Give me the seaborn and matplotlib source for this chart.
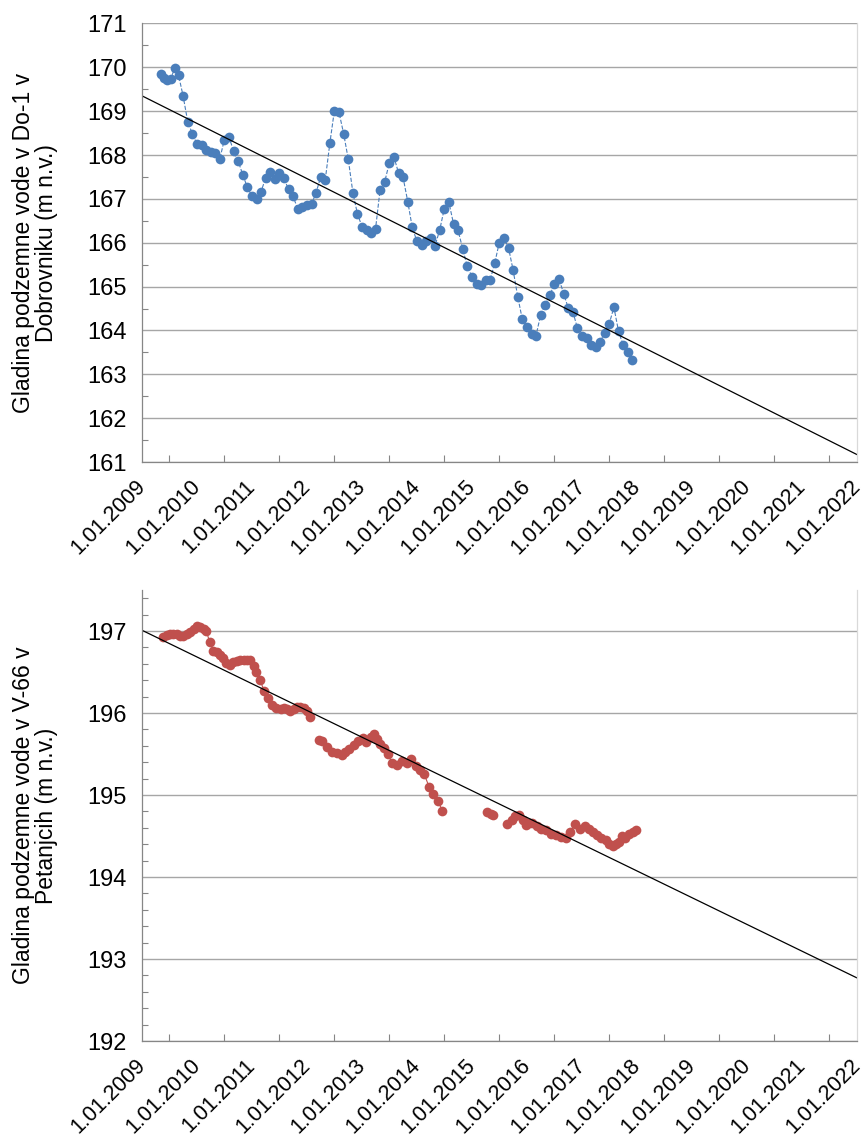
import numpy as np
import pandas as pd
import matplotlib
matplotlib.use("Agg")
import matplotlib.pyplot as plt
import seaborn as sns
from matplotlib.ticker import MultipleLocator

# --- data ---
# Do-1 (Dobrovnik): monthly readings, the first few a bit irregular
do1_first_dates = ["2009-05-05", "2009-05-28", "2009-06-18", "2009-07-10", "2009-08-08"]
do1_monthly_start, do1_monthly_end = "2009-09-01", "2017-12-01"
do1_levels = [
    169.85, 169.75, 169.70, 169.73, 169.99,
    169.82, 169.35, 168.76, 168.49,
    168.25, 168.23, 168.12, 168.08, 168.05, 167.90, 168.34, 168.42, 168.09, 167.87, 167.55, 167.27,
    167.06, 167.00, 167.15, 167.47, 167.61, 167.45, 167.59, 167.47, 167.22, 167.06, 166.77, 166.82,
    166.85, 166.88, 167.14, 167.49, 167.42, 168.27, 169.01, 168.97, 168.48, 167.91, 167.14, 166.66,
    166.37, 166.29, 166.23, 166.31, 167.20, 167.39, 167.81, 167.96, 167.59, 167.49, 166.94, 166.35,
    166.03, 165.95, 166.03, 166.10, 165.93, 166.29, 166.77, 166.92, 166.43, 166.28, 165.86, 165.46,
    165.23, 165.06, 165.03, 165.14, 165.15, 165.53, 166.00, 166.10, 165.88, 165.38, 164.77, 164.26,
    164.09, 163.93, 163.88, 164.36, 164.58, 164.80, 165.06, 165.17, 164.84, 164.51, 164.43, 164.05,
    163.88, 163.83, 163.67, 163.62, 163.73, 163.95, 164.15, 164.53, 163.98, 163.67, 163.50, 163.32,
]

# V-66 (Petanjci): decimal years, NaN marks a break in the record
v66_years = [
    2009.39, 2009.45, 2009.51, 2009.57, 2009.63, 2009.69, 2009.75, 2009.81, 2009.87, 2009.94,
    2010.00, 2010.06, 2010.12, 2010.17, 2010.23, 2010.30, 2010.36, 2010.42, 2010.48, 2010.53,
    2010.60, 2010.66, 2010.73, 2010.79, 2010.85, 2010.91, 2010.97, 2011.03, 2011.08, 2011.15,
    2011.22, 2011.30, 2011.36, 2011.44, 2011.52, 2011.58, 2011.64, 2011.70, 2011.76, 2011.82,
    2011.88, 2011.94, 2012.00, 2012.06, np.nan,
    2012.21, 2012.28, 2012.37, 2012.46, 2012.55, 2012.64, 2012.70, 2012.77, 2012.85, 2012.93,
    2013.01, 2013.08, 2013.16, 2013.22, 2013.28, 2013.33, 2013.40, 2013.47, 2013.55, 2013.63,
    2013.72, 2013.81, 2013.90, 2013.98, 2014.06, 2014.13, 2014.22, 2014.30, 2014.38, 2014.46, np.nan,
    2015.28, 2015.35, 2015.38, np.nan,
    2015.64, 2015.72, 2015.79, 2015.85, 2015.92, 2015.98, 2016.04, 2016.09, 2016.18, 2016.26,
    2016.35, 2016.44, 2016.53, 2016.62, 2016.71, 2016.79, 2016.88, 2016.96, 2017.05, 2017.12,
    2017.20, 2017.28, 2017.35, 2017.44, 2017.50, 2017.56, 2017.62, 2017.68, 2017.72, 2017.78,
    2017.85, 2017.92, 2017.98,
]
v66_levels = [
    196.93, 196.95, 196.97, 196.97, 196.96, 196.94, 196.94, 196.96, 196.99, 197.03,
    197.06, 197.05, 197.03, 197.00, 196.87, 196.76, 196.74, 196.71, 196.67, 196.61,
    196.59, 196.62, 196.63, 196.65, 196.65, 196.65, 196.65, 196.57, 196.50, 196.40,
    196.27, 196.18, 196.10, 196.06, 196.05, 196.06, 196.05, 196.03, 196.05, 196.07,
    196.07, 196.06, 196.02, 195.95, np.nan,
    195.67, 195.66, 195.58, 195.52, 195.51, 195.49, 195.52, 195.56, 195.61, 195.66,
    195.70, 195.65, 195.71, 195.75, 195.68, 195.62, 195.57, 195.50, 195.39, 195.37,
    195.41, 195.39, 195.44, 195.35, 195.30, 195.26, 195.10, 195.01, 194.93, 194.81, np.nan,
    194.79, 194.77, 194.76, np.nan,
    194.65, 194.70, 194.74, 194.76, 194.70, 194.63, 194.66, 194.66, 194.62, 194.58,
    194.57, 194.53, 194.51, 194.49, 194.48, 194.55, 194.65, 194.59, 194.62, 194.59,
    194.55, 194.51, 194.48, 194.45, 194.40, 194.38, 194.40, 194.43, 194.50, 194.48,
    194.52, 194.55, 194.57,
]

# linear trends (end points at 1.1.2009 and 1.1.2022)
trend_years = [2009.0, 2022.0]
do1_trend = [169.35, 161.17]
v66_trend = [197.01, 192.77]

tick_years = list(range(2009, 2023))
tick_labels = [f"1.01.{y}" for y in tick_years]

# --- frames ---
do1_dates = pd.to_datetime(do1_first_dates).append(
    pd.date_range(do1_monthly_start, do1_monthly_end, freq="MS"))
do1 = pd.DataFrame({
    "year": do1_dates.year + (do1_dates.dayofyear - 1) / 365.25,
    "level": do1_levels,
})

v66 = pd.DataFrame({"year": v66_years, "level": v66_levels})
v66["seg"] = v66["year"].isna().cumsum()
v66 = v66.dropna()

sns.set_theme(style="white")
plt.rcParams["font.family"] = ["Liberation Sans", "DejaVu Sans"]

blue = "#4a7ebb"
red = "#c0504d"
axis_col = "#868686"
grid_col = "#a6a6a6"

fig = plt.figure(figsize=(8.63, 11.38), dpi=100)
ax1 = fig.add_axes([0.1645, 0.594, 0.8285, 0.3854])
ax2 = fig.add_axes([0.1645, 0.0852, 0.8285, 0.3963])

sns.lineplot(data=do1, x="year", y="level", ax=ax1, color=blue, marker="o",
             markersize=7, markeredgewidth=0, linewidth=0.8, linestyle="--")
sns.lineplot(x=trend_years, y=do1_trend, ax=ax1, color="black", linewidth=0.9)

sns.lineplot(data=v66, x="year", y="level", units="seg", estimator=None, ax=ax2,
             color=red, marker="o", markersize=7, markeredgewidth=0, linewidth=0.8)
sns.lineplot(x=trend_years, y=v66_trend, ax=ax2, color="black", linewidth=0.9)

setups = [
    (ax1, (161, 171), 1, 0.5, "Gladina podzemne vode v Do-1 v\nDobrovniku (m n.v.)"),
    (ax2, (192, 197.5), 1, 0.2, "Gladina podzemne vode v V-66 v\nPetanjcih (m n.v.)"),
]
for ax, ylim, major, minor, ylab in setups:
    ax.set_xlim(2009, 2022)
    ax.set_ylim(*ylim)
    ax.yaxis.set_major_locator(MultipleLocator(major))
    ax.yaxis.set_minor_locator(MultipleLocator(minor))
    ax.set_xticks(tick_years)
    ax.set_xticklabels(tick_labels, rotation=45, ha="right", va="center",
                       rotation_mode="anchor", fontsize=15.5)
    ax.xaxis.set_minor_locator(MultipleLocator(0.5))
    ax.yaxis.grid(True, which="major", color=grid_col, linewidth=1.0)
    ax.set_axisbelow(True)
    for lab in ax.get_yticklabels():
        lab.set_fontsize(17)
    ax.tick_params(axis="y", which="major", direction="out", length=6, width=0.8,
                   color=axis_col, pad=5, labelcolor="black")
    ax.tick_params(axis="y", which="minor", direction="in", length=4.5, width=0.8,
                   color=axis_col, left=True)
    ax.tick_params(axis="x", which="major", direction="inout", length=9, width=0.8,
                   color=axis_col, pad=11, labelcolor="black")
    ax.tick_params(axis="x", which="minor", direction="in", length=5, width=0.8,
                   color=axis_col, bottom=True)
    ax.spines["top"].set_visible(False)
    ax.spines["right"].set_color("#d9d9d9")
    ax.spines["left"].set_color(axis_col)
    ax.spines["bottom"].set_color(axis_col)
    for s in ["left", "bottom", "right"]:
        ax.spines[s].set_linewidth(0.9)
    ax.set_xlabel("")
    ax.set_ylabel(ylab, fontsize=16.5, linespacing=1.0, color="black")
    ax.yaxis.set_label_coords(-0.118, 0.5)

fig.savefig("out.png", dpi=100)
